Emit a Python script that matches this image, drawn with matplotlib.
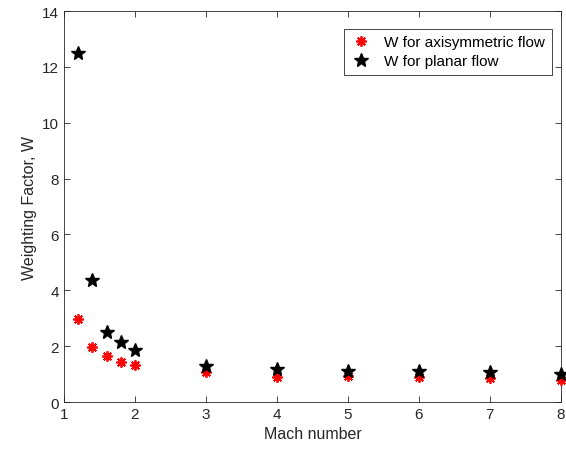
import matplotlib
matplotlib.use('Agg')
import matplotlib.pyplot as plt

plt.rcParams['font.family'] = ['Liberation Sans', 'DejaVu Sans']

mach = [1.2, 1.4, 1.6, 1.8, 2, 3, 4, 5, 6, 7, 8]
w_axi = [2.97, 1.96, 1.66, 1.44, 1.32, 1.09, 0.91, 0.94, 0.88, 0.85, 0.79]
w_planar = [12.48, 4.37, 2.52, 2.14, 1.86, 1.30, 1.18, 1.11, 1.10, 1.06, 0.99]

fig = plt.figure(figsize=(5.66, 4.52), dpi=100)
ax = fig.add_axes([0.113, 0.1084, 0.878, 0.865])

ax.plot(mach, w_axi, linestyle='none', marker=(8, 2, 0), markersize=7.5,
        markeredgewidth=1.3, color='red', markeredgecolor='red',
        label='W for axisymmetric flow', clip_on=False, zorder=3)
ax.plot(mach, w_planar, linestyle='none', marker='*', markersize=10.5,
        color='black', label='W for planar flow', clip_on=False, zorder=4)

ax.set_xlim(1, 8)
ax.set_ylim(0, 14)
ax.set_xticks(range(1, 9))
ax.set_yticks(range(0, 15, 2))

gray = '#262626'
ax.tick_params(direction='in', top=True, right=True, labelsize=11,
               colors=gray, length=4, width=0.6)
for s in ax.spines.values():
    s.set_color(gray)
    s.set_linewidth(0.6)

ax.set_xlabel('Mach number', fontsize=11.5, color=gray)
ax.set_ylabel('Weighting Factor, W', fontsize=11.5, color=gray)

leg = ax.legend(loc='upper right', bbox_to_anchor=(0.988, 0.963), fontsize=11,
                fancybox=False, edgecolor=gray, framealpha=1,
                handlelength=1.4, handletextpad=0.8, borderpad=0.45,
                labelspacing=0.3, borderaxespad=0.2)
leg.get_frame().set_linewidth(0.6)

fig.savefig('out.png', dpi=100)
